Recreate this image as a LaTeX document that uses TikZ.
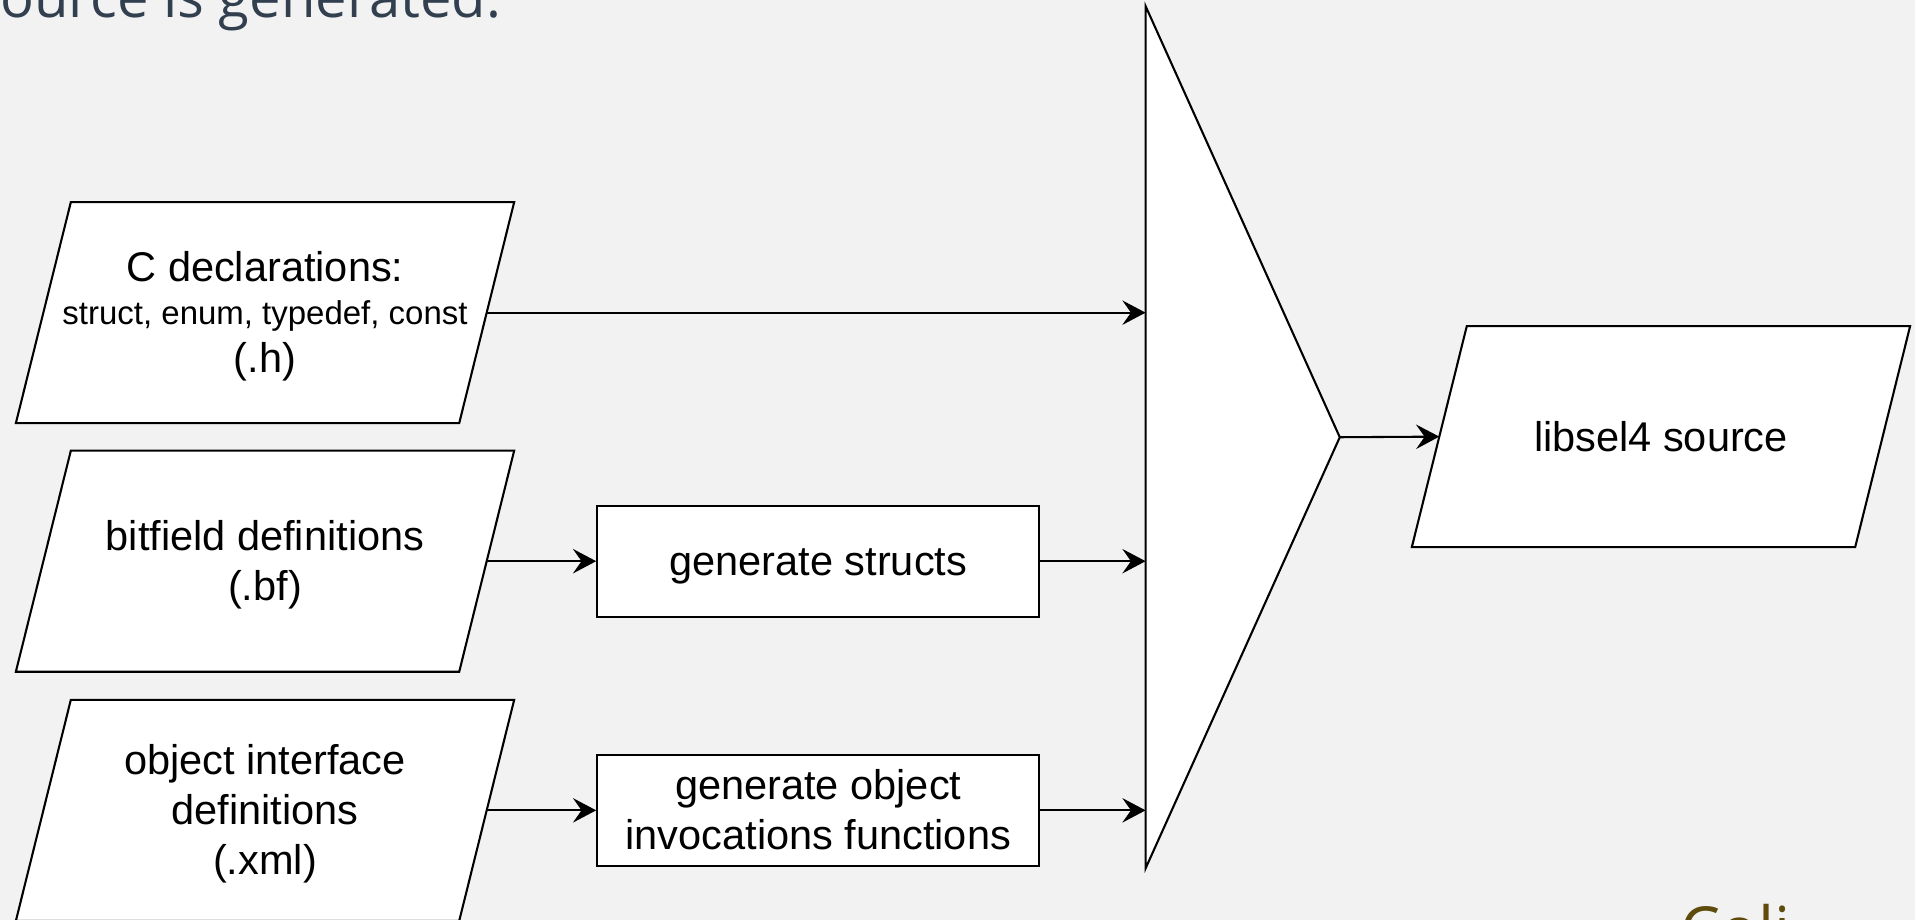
\documentclass[tikz,border=0pt]{standalone}
\usepackage{fontspec}
\setmainfont{Liberation Sans}
\newfontfamily\slidefont{Open Sans}
\usetikzlibrary{positioning,arrows.meta}
\definecolor{SlideBack}{HTML}{F2F2F2}
\definecolor{HeadSlate}{HTML}{323F4F}
\definecolor{FootOlive}{HTML}{5F4B0B}
\pgfdeclarelayer{background}
\pgfsetlayers{background,main}
\newcommand{\mainsz}{\fontsize{34}{41}\selectfont}
\newcommand{\smallsz}{\fontsize{27}{39}\selectfont}
\newcommand{\slidesz}{\slidefont\fontsize{46}{55}\selectfont}
\newcommand{\footsz}{\slidefont\fontsize{52}{62}\selectfont}
\newcommand{\lnstrut}{\rule[-8.6pt]{0pt}{40.8pt}}
\tikzset{
	frame/.style={draw, fill=white, line width=1.7pt, line join=miter},
	inputfile/.style={rectangle, minimum width=363pt, minimum height=181pt,
		inner sep=0pt, outer sep=0pt, align=center, font=\mainsz,
		execute at end node=\lnstrut},
	genbox/.style={rectangle, frame, minimum width=362pt, minimum height=91pt,
		inner sep=0pt, align=center, font=\mainsz,
		execute at end node=\lnstrut},
	arr/.style={line width=1.7pt, -{Stealth[length=19pt, width=20pt, inset=7pt]}},
}

\begin{document}
\begin{tikzpicture}[x=1pt, y=-1pt]
					\useasboundingbox (0,0) rectangle (1568,753);
					\begin{pgfonlayer}{background}
						\fill[SlideBack] (0,0) rectangle (1568,753);
					\end{pgfonlayer}
					\node[anchor=base west, inner sep=0pt, text=HeadSlate, font=\slidesz] (head) at (0,14) {ource is generated.};
					\node[anchor=base west, inner sep=0pt, text=FootOlive, font=\footsz] (foot) at (1375.5,779.7) {Coli};
					\node[inputfile, font=\fontsize{34}{39}\selectfont] (cdecl) at (217,256) {\lnstrut C declarations:\\[-4pt]{\smallsz struct, enum, typedef, const}\\(.h)};
					\node[inputfile] (bitf) at (217,459.5) {\lnstrut bitfield definitions\\(.bf)};
					\node[inputfile] (objif) at (217,663.5) {\lnstrut object interface\\definitions\\(.xml)};
					\node[genbox] (gstruct) at (670,459.5) {\lnstrut generate structs};
					\node[genbox] (ginvoc) at (670,663.5) {\lnstrut generate object\\invocations functions};
					\coordinate (mtop) at (938,5);
					\coordinate (mbot) at (938,711);
					\coordinate (mapex) at (1097,358);
					\draw[frame] (mtop) -- (mapex) -- (mbot) -- cycle;
					\node[inputfile] (libsrc) at (1360,357.5) {\lnstrut libsel4 source};
					\begin{pgfonlayer}{background}
						\foreach \f in {cdecl,bitf,objif,libsrc}
						\draw[frame] ([xshift=22.5pt]\f.north west) -- ([xshift=22.5pt]\f.north east)
							-- ([xshift=-22.5pt]\f.south east) -- ([xshift=-22.5pt]\f.south west) -- cycle;
					\end{pgfonlayer}
					\draw[arr] (cdecl.east) -- (cdecl.east -| mtop);
					\draw[arr] (bitf.east) -- (gstruct.west);
					\draw[arr] (gstruct.east) -- (gstruct.east -| mtop);
					\draw[arr] (objif.east) -- (ginvoc.west);
					\draw[arr] (ginvoc.east) -- (ginvoc.east -| mtop);
					\draw[arr] (mapex) -- (libsrc.west);
				\end{tikzpicture}
\end{document}
